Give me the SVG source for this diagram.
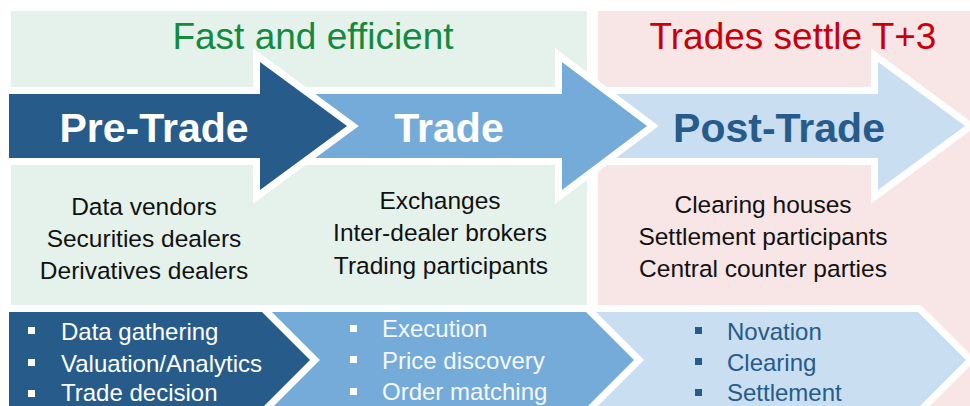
<svg xmlns="http://www.w3.org/2000/svg" width="970" height="406" viewBox="0 0 970 406">
<style>
.shape{stroke:#ffffff;stroke-width:14;stroke-linejoin:miter;stroke-miterlimit:10;paint-order:stroke}
.dark{fill:#265b8a}
.mid{fill:#75abd8}
.light{fill:#c9def1}
.head{font-family:"Liberation Sans",Arial,sans-serif;font-weight:bold;font-size:41px;text-anchor:middle}
.title{font-family:"Liberation Sans",Arial,sans-serif;font-size:37px;text-anchor:middle}
.mtxt{font-family:"Liberation Sans",Arial,sans-serif;font-size:24.5px;fill:#111111;text-anchor:middle}
.btxt{font-family:"Liberation Sans",Arial,sans-serif;font-size:24px}
</style>
<g id="panels">
<rect x="11" y="11" width="576" height="395" fill="#e5f2eb"/>
<rect x="598" y="11" width="372" height="395" fill="#f8e5e5"/>
</g>
<g id="titles">
<text class="title" x="313" y="49" fill="#138a3f">Fast and efficient</text>
<text class="title" x="793" y="49" fill="#c8000a" font-size="36">Trades settle T+3</text>
</g>
<g id="post-trade">
<path class="shape light" d="M560 94H878V62L965 126L878 190V158H560Z"/>
<text class="head" x="779" y="142" fill="#265b8a">Post-Trade</text>
</g>
<g id="trade">
<path class="shape mid" d="M260 94H562V62L647 126L562 190V158H260Z"/>
<text class="head" x="449" y="142" fill="#ffffff">Trade</text>
</g>
<g id="pre-trade">
<path class="shape dark" d="M9 94H260V62L347 126L260 190V158H9Z"/>
<text class="head" x="154" y="142" fill="#ffffff">Pre-Trade</text>
</g>
<g id="pre-trade-participants">
<text class="mtxt" x="144" y="215">Data vendors</text>
<text class="mtxt" x="144" y="247">Securities dealers</text>
<text class="mtxt" x="144" y="279">Derivatives dealers</text>
</g>
<g id="trade-participants">
<text class="mtxt" x="440" y="209">Exchanges</text>
<text class="mtxt" x="440" y="241">Inter-dealer brokers</text>
<text class="mtxt" x="441" y="274">Trading participants</text>
</g>
<g id="post-trade-participants">
<text class="mtxt" x="763" y="213">Clearing houses</text>
<text class="mtxt" x="763" y="245">Settlement participants</text>
<text class="mtxt" x="763" y="277">Central counter parties</text>
</g>
<g id="post-trade-steps">
<path class="shape light" d="M590 312H918L966 360L918 408H590Z"/>
<g fill="#265b8a">
<rect x="695" y="327" width="7" height="7"/>
<rect x="695" y="358" width="7" height="7"/>
<rect x="695" y="389" width="7" height="7"/>
</g>
<g class="btxt" fill="#265b8a">
<text x="727" y="340">Novation</text>
<text x="727" y="371">Clearing</text>
<text x="727" y="401">Settlement</text>
</g>
</g>
<g id="trade-steps">
<path class="shape mid" d="M250 312H586L634 360L586 408H250Z"/>
<g fill="#ffffff">
<rect x="350" y="325" width="7" height="7"/>
<rect x="350" y="356" width="7" height="7"/>
<rect x="350" y="388" width="7" height="7"/>
</g>
<g class="btxt" fill="#f4f8fc">
<text x="382" y="337">Execution</text>
<text x="382" y="369">Price discovery</text>
<text x="382" y="400">Order matching</text>
</g>
</g>
<g id="pre-trade-steps">
<path class="shape dark" d="M9 312H262L310 360L262 408H9Z"/>
<g fill="#ffffff">
<rect x="28" y="327" width="7" height="7"/>
<rect x="28" y="359" width="7" height="7"/>
<rect x="28" y="390" width="7" height="7"/>
</g>
<g class="btxt" fill="#ffffff">
<text x="61" y="340">Data gathering</text>
<text x="61" y="372">Valuation/Analytics</text>
<text x="61" y="401">Trade decision</text>
</g>
</g>
</svg>
